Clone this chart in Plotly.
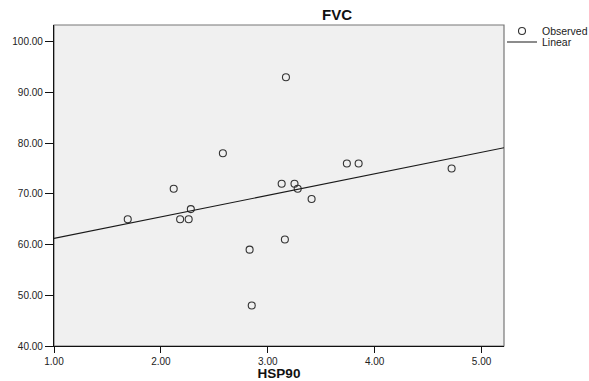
import numpy as np
import plotly.graph_objects as go

# Data
hsp90 = [1.69, 2.12, 2.18, 2.26, 2.28, 2.58, 2.83, 2.85, 3.17, 3.13, 3.16, 3.25, 3.28, 3.41, 3.74, 3.85, 4.72]
fvc = [65, 71, 65, 65, 67, 78, 59, 48, 93, 72, 61, 72, 71, 69, 76, 76, 75]
x_ticks = [1, 2, 3, 4, 5]
y_ticks = [40, 50, 60, 70, 80, 90, 100]
x_range = [1.0, 5.21]
y_range = [40.0, 103.3]

slope, intercept = np.polyfit(hsp90, fvc, 1)
fit_x = np.array(x_range)
fit_y = intercept + slope * fit_x

FONT = "Arial, Liberation Sans, sans-serif"
PLOT_TOP, PLOT_H, PLOT_L, PLOT_W = 25, 321, 54, 450

fig = go.Figure()
fig.add_trace(go.Scatter(
    x=hsp90, y=fvc, mode="markers", name="Observed", legend="legend",
    marker=dict(symbol="circle-open", size=7, color="#333333", line=dict(width=1.1, color="#333333")),
))
fig.add_trace(go.Scatter(
    x=fit_x, y=fit_y, mode="lines", name="Linear", legend="legend2",
    line=dict(color="#1a1a1a", width=1.1),
))

leg_x = (502 - PLOT_L) / PLOT_W
legend_common = dict(x=leg_x, xanchor="left", yanchor="middle", bgcolor="rgba(0,0,0,0)",
                     font=dict(size=10.5, color="#222222", family=FONT), itemwidth=30,
                     borderwidth=0)

fig.update_layout(
    width=589, height=381,
    margin=dict(l=PLOT_L, r=589 - PLOT_L - PLOT_W, t=PLOT_TOP, b=381 - PLOT_TOP - PLOT_H, autoexpand=False),
    paper_bgcolor="white",
    plot_bgcolor="#F0F0F0",
    font=dict(family=FONT, size=10, color="#222222"),
    title=dict(text="<b>FVC</b>", x=0.629, xref="paper", xanchor="center",
               y=1 - 15 / 381, yref="container", yanchor="middle",
               font=dict(size=15, color="#111111", family=FONT)),
    showlegend=True,
    legend=dict(y=1 - (31 - PLOT_TOP) / PLOT_H, **legend_common),
    legend2=dict(y=1 - (42 - PLOT_TOP) / PLOT_H, **legend_common),
    shapes=[dict(type="rect", xref="paper", yref="paper", x0=0, x1=1, y0=0, y1=1,
                 line=dict(color="#777777", width=1.2), layer="below")],
)
fig.update_xaxes(
    range=x_range, tickvals=x_ticks, tickformat=".2f",
    showgrid=False, zeroline=False,
    showline=True, linecolor="#111111", linewidth=1.2,
    ticks="outside", ticklen=6, tickcolor="#111111",
    title=dict(text="<b>HSP90</b>", font=dict(size=13.5, color="#111111"), standoff=11),
)
fig.update_yaxes(
    range=y_range, tickvals=y_ticks, tickformat=".2f",
    showgrid=False, zeroline=False,
    showline=True, linecolor="#111111", linewidth=1.2,
    ticks="outside", ticklen=8, tickcolor="#111111",
    ticklabelstandoff=0,
)

fig.write_html(
    "out.html",
    config={"displayModeBar": False},
    post_script="document.body.style.margin='0';document.body.style.overflow='hidden';",
)
